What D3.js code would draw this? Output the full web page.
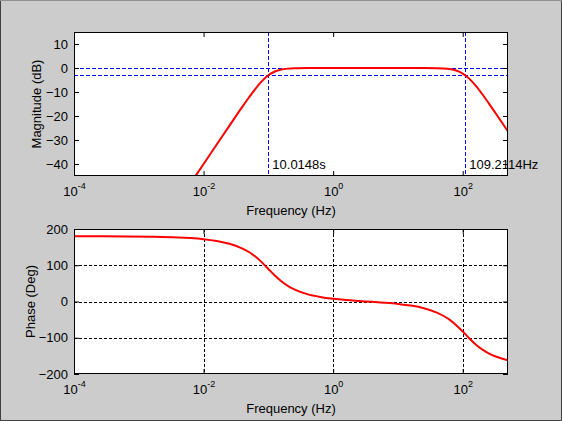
<!DOCTYPE html>
<html>
<head>
<meta charset="utf-8">
<script src="https://cdn.jsdelivr.net/npm/d3@7"></script>
<style>
  html, body { margin: 0; padding: 0; background: #cccccc; }
  svg text { font-family: "Liberation Sans", Arial, sans-serif; font-size: 13px; fill: #000; }
</style>
</head>
<body>
<svg id="chart"></svg>
<script>
// frequency grid (Hz) and the values
const freqHz = [0.0001, 0.000251, 0.000631, 0.001585, 0.003981, 0.00631, 0.01, 0.01585,
  0.02512, 0.03981, 0.05012, 0.0631, 0.07943, 0.1, 0.1259, 0.1585, 0.1995, 0.2512,
  0.3981, 0.631, 1, 1.585, 2.512, 3.981, 6.31, 10, 15.85, 25.12, 39.81, 50.12, 63.1,
  79.43, 100, 125.9, 158.5, 199.5, 251.2, 316.2, 398.1, 501.2];

const magnitudeDb = [-120, -104, -88, -72, -56, -48, -40.0, -32.0, -24.0, -16.1, -12.3,
  -8.66, -5.47, -3.0, -1.45, -0.64, -0.26, -0.11, -0.02, 0, 0, 0, 0, 0, 0, 0, 0,
  -0.01, -0.08, -0.19, -0.46, -1.07, -2.31, -4.42, -7.35, -10.84, -14.62, -18.53,
  -22.49, -26.48];

const phaseDeg = [179.9, 179.8, 179.5, 178.7, 176.8, 174.9, 171.9, 167.0, 159.2, 146.1,
  136.5, 123.9, 108.0, 89.8, 71.6, 55.8, 43.2, 33.6, 20.4, 12.5, 7.4, 3.9, 1.4, -0.9,
  -3.4, -6.6, -11.3, -18.6, -30.5, -39.3, -50.7, -65.3, -82.8, -101.3, -118.3, -132.1,
  -142.8, -151.0, -157.2, -162.1];

const freqTicks = [1e-4, 1e-2, 1, 1e2];
const freqTickExp = ['-4', '-2', '0', '2'];
const magTicks = [-40, -30, -20, -10, 0, 10];
const phaseTicks = [-200, -100, 0, 100, 200];

// cut-off markers on the magnitude panel
const markerLevels = [0, -3];
const lowCornerPeriod = 10.0148;   // s
const highCornerHz = 109.2114;

const width = 562, height = 421;
const svg = d3.select('#chart').attr('width', width).attr('height', height);

// figure frame
svg.append('rect').attr('width', width).attr('height', height).attr('fill', '#cccccc');
svg.append('path')
   .attr('d', `M0.5,0.5V${height - 0.5}H${width - 0.5}V0.5`)
   .attr('fill', 'none').attr('stroke', '#404040');
svg.append('line').attr('x1', 0).attr('x2', width).attr('y1', 0.5).attr('y2', 0.5)
   .attr('stroke', '#909090');

const left = 74, right = 508;

function panel(top, bottom, yDomain, yTicks, id) {
    let x = d3.scaleLog().domain([1e-4, 500]).range([left, right]);
    let y = d3.scaleLinear().domain(yDomain).range([bottom, top]);
    let g = svg.append('g');

    g.append('rect')
     .attr('x', left).attr('y', top)
     .attr('width', right - left).attr('height', bottom - top)
     .attr('fill', '#fff');

    g.append('clipPath').attr('id', id)
     .append('rect')
     .attr('x', left).attr('y', top)
     .attr('width', right - left).attr('height', bottom - top);

    return { x, y, g, top, bottom, yTicks };
}

function frame(p) {
    let { x, y, g, top, bottom, yTicks } = p;

    let xAxis = g.append('g')
        .attr('transform', `translate(0,${bottom})`)
        .call(d3.axisBottom(x).tickValues(freqTicks).tickSizeInner(-5).tickSizeOuter(0).tickPadding(11));
    xAxis.selectAll('.tick text')
        .text('10')
        .append('tspan')
        .attr('dy', '-7')
        .attr('font-size', '9px')
        .text((d, i) => freqTickExp[i]);

    g.append('g')
     .attr('transform', `translate(0,${top})`)
     .call(d3.axisTop(x).tickValues(freqTicks).tickSizeInner(-5).tickSizeOuter(0).tickFormat(''));

    g.append('g')
     .attr('transform', `translate(${left},0)`)
     .call(d3.axisLeft(y).tickValues(yTicks).tickSizeInner(-5).tickSizeOuter(0).tickPadding(6));

    g.append('g')
     .attr('transform', `translate(${right},0)`)
     .call(d3.axisRight(y).tickValues(yTicks).tickSizeInner(-5).tickSizeOuter(0).tickFormat(''));

    g.selectAll('.domain').remove();
    g.selectAll('.tick line').attr('stroke', '#000');
    g.selectAll('.tick text').attr('font-size', null).attr('font-family', null).attr('fill', '#000');

    g.append('rect')
     .attr('x', left + 0.5).attr('y', top + 0.5)
     .attr('width', right - left - 1).attr('height', bottom - top - 1)
     .attr('fill', 'none').attr('stroke', '#000');
}

function curve(p, values, id) {
    let line = d3.line()
        .x((d, i) => p.x(freqHz[i]))
        .y(d => p.y(d))
        .curve(d3.curveMonotoneX);

    p.g.append('path')
       .datum(values)
       .attr('clip-path', `url(#${id})`)
       .attr('d', line)
       .attr('fill', 'none')
       .attr('stroke', '#ff0000')
       .attr('stroke-width', 2);
}

// --- magnitude ---
const mag = panel(32, 176, [-45, 15], magTicks, 'clipMag');

mag.g.selectAll('.level')
   .data(markerLevels)
   .join('line')
   .attr('x1', left).attr('x2', right)
   .attr('y1', d => Math.round(mag.y(d)) + 0.5).attr('y2', d => Math.round(mag.y(d)) + 0.5)
   .attr('stroke', '#0000ff').attr('stroke-dasharray', '4,2');

mag.g.selectAll('.corner')
   .data([1 / lowCornerPeriod, highCornerHz])
   .join('line')
   .attr('x1', d => Math.round(mag.x(d)) + 0.5).attr('x2', d => Math.round(mag.x(d)) + 0.5)
   .attr('y1', mag.top).attr('y2', mag.bottom)
   .attr('stroke', '#0000ff').attr('stroke-dasharray', '4,2');

curve(mag, magnitudeDb, 'clipMag');
frame(mag);

mag.g.append('text')
   .attr('x', mag.x(1 / lowCornerPeriod) + 4).attr('y', 169)
   .text(lowCornerPeriod + 's');
mag.g.append('text')
   .attr('x', mag.x(highCornerHz) + 4).attr('y', 169)
   .text(highCornerHz + 'Hz');

svg.append('text')
   .attr('x', (left + right) / 2).attr('y', 215)
   .attr('text-anchor', 'middle')
   .text('Frequency (Hz)');
svg.append('text')
   .attr('transform', `translate(41,${(32 + 176) / 2}) rotate(-90)`)
   .attr('text-anchor', 'middle')
   .text('Magnitude (dB)');

// --- phase ---
const ph = panel(229, 374, [-200, 200], phaseTicks, 'clipPh');

ph.g.selectAll('.gx')
   .data(freqTicks.slice(1))
   .join('line')
   .attr('x1', d => Math.round(ph.x(d)) + 0.5).attr('x2', d => Math.round(ph.x(d)) + 0.5)
   .attr('y1', ph.top).attr('y2', ph.bottom)
   .attr('stroke', '#000').attr('stroke-dasharray', '3,2');

ph.g.selectAll('.gy')
   .data(phaseTicks.slice(1, -1))
   .join('line')
   .attr('x1', left).attr('x2', right)
   .attr('y1', d => Math.round(ph.y(d)) + 0.5).attr('y2', d => Math.round(ph.y(d)) + 0.5)
   .attr('stroke', '#000').attr('stroke-dasharray', '3,2');

curve(ph, phaseDeg, 'clipPh');
frame(ph);

svg.append('text')
   .attr('x', (left + right) / 2).attr('y', 413)
   .attr('text-anchor', 'middle')
   .text('Frequency (Hz)');
svg.append('text')
   .attr('transform', `translate(35,${(229 + 374) / 2}) rotate(-90)`)
   .attr('text-anchor', 'middle')
   .text('Phase (Deg)');
</script>
</body>
</html>
